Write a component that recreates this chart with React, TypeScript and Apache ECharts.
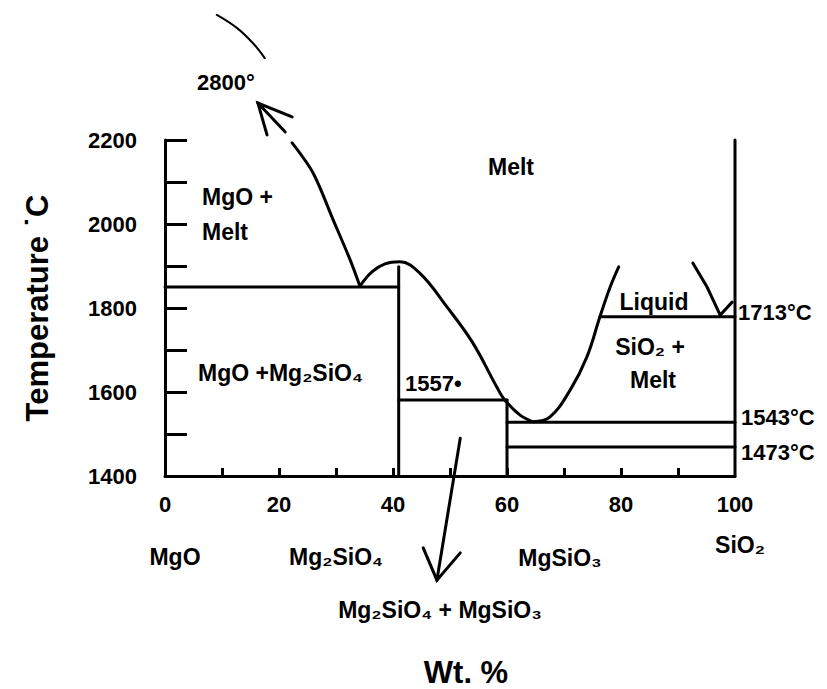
import React, { useEffect, useRef } from 'react';
import * as echarts from 'echarts';

// ---- axis ticks & labels ----
const xTickValues = [10, 20, 30, 40, 50, 60, 70, 80, 90];
const xLabelValues = [0, 20, 40, 60, 80, 100];
const xLabelTexts = ['0', '20', '40', '60', '80', '100'];
const yLabelValues = [1400, 1600, 1800, 2000, 2200];
const yLabelTexts = ['1400', '1600', '1800', '2000', '2200'];

// ---- phase boundaries (wt% SiO2, temperature) ----
const topArc = [[9.1, 2498], [12.6, 2467], [15.4, 2431], [17.5, 2395]];
const mgoLiquidus = [[22.3, 2193], [26.0, 2121], [29.5, 2010], [32.5, 1914], [34.2, 1852]];
const upArrowHead = [[17.9, 2212], [16.3, 2288], [22.3, 2255]];
const upArrowShaft = [[16.3, 2288], [21.1, 2219]];
const forsteriteDome = [
  [34.2, 1852], [36.3, 1886], [38.6, 1905], [41.2, 1910], [44.7, 1883], [49.5, 1802],
  [54.0, 1717], [58.2, 1612], [59.6, 1581], [62.3, 1545], [64.6, 1529],
];
const silicaLiquidusLeft = [
  [64.6, 1529], [67.5, 1540], [71.1, 1605], [74.0, 1683], [76.3, 1779], [78.1, 1850], [79.6, 1898],
];
const silicaLiquidusRight = [[92.6, 1907], [95.1, 1850], [97.4, 1783], [99.5, 1814]];
const eutectic1850 = [[0, 1850], [41, 1850]];
const forsteriteLine = [[41, 1898], [41, 1400]];
const line1557 = [[41, 1581], [60, 1581]];
const enstatiteLine = [[60, 1581], [60, 1400]];
const line1543 = [[60, 1528], [100, 1528]];
const line1473 = [[60, 1469], [100, 1469]];
const line1713 = [[76.3, 1779], [100, 1779]];
const silicaLine = [[100, 1400], [100, 2200]];
const downArrowShaft = [[51.8, 1490], [47.7, 1152]];
const downArrowHead = [[45.3, 1229], [47.7, 1152], [51.8, 1217]];

const FONT = "'Liberation Sans',Arial,sans-serif";

function seg(data: number[][], width = 3, smooth: number | boolean = false) {
  return {
    type: 'line',
    data,
    showSymbol: false,
    symbol: 'none',
    smooth,
    clip: false,
    silent: true,
    lineStyle: { color: '#000', width, cap: 'round', join: 'miter' },
  };
}

function txt(text: string, x: number, y: number, size: number, align = 'left', weight = 'bold', rotation = 0) {
  return {
    type: 'text',
    x,
    y,
    rotation,
    silent: true,
    style: {
      text,
      fill: '#000',
      fontSize: size,
      fontFamily: FONT,
      fontWeight: weight,
      textAlign: align,
      textVerticalAlign: 'middle',
    },
  };
}

export default function App() {
  const ref = useRef<HTMLDivElement>(null);
  useEffect(() => {
    if (!ref.current) return;
    const chart = echarts.init(ref.current, null, { renderer: 'svg' });
    chart.setOption({
      animation: false,
      backgroundColor: '#fff',
      grid: { left: 165, top: 140, width: 570, height: 336 },
      xAxis: {
        type: 'value',
        min: 0,
        max: 100,
        interval: 10,
        axisLine: { show: true, lineStyle: { color: '#000', width: 3 } },
        axisTick: { show: true, inside: true, length: 8, lineStyle: { color: '#000', width: 3 }, customValues: xTickValues },
        axisLabel: {
          show: true,
          customValues: xLabelValues,
          formatter: (v: number) => xLabelTexts[xLabelValues.indexOf(v)] ?? '',
          margin: 17,
          color: '#000',
          fontSize: 22,
          fontWeight: 'bold',
          fontFamily: FONT,
        },
        splitLine: { show: false },
      },
      yAxis: {
        type: 'value',
        min: 1400,
        max: 2200,
        interval: 100,
        axisLine: { show: true, lineStyle: { color: '#000', width: 3 } },
        axisTick: { show: true, inside: true, length: 22, lineStyle: { color: '#000', width: 3 } },
        axisLabel: {
          show: true,
          customValues: yLabelValues,
          formatter: (v: number) => yLabelTexts[yLabelValues.indexOf(v)] ?? '',
          margin: 28,
          color: '#000',
          fontSize: 22,
          fontWeight: 'bold',
          fontFamily: FONT,
        },
        splitLine: { show: false },
      },
      series: [
        seg(topArc, 2, 0.4),
        seg(mgoLiquidus, 3, 0.3),
        seg(upArrowHead, 3),
        seg(upArrowShaft, 3),
        seg(forsteriteDome, 3, 0.4),
        seg(silicaLiquidusLeft, 3, 0.4),
        seg(silicaLiquidusRight, 3),
        seg(eutectic1850, 3),
        seg(forsteriteLine, 3),
        seg(line1557, 3),
        seg(enstatiteLine, 3),
        seg(line1543, 3),
        seg(line1473, 3),
        seg(line1713, 3),
        seg(silicaLine, 3),
        seg(downArrowShaft, 3),
        seg(downArrowHead, 3),
      ],
      graphic: [
        txt('2800°', 197, 82, 22),
        txt('Melt', 511, 167, 23, 'center'),
        txt('MgO +', 202, 197, 23),
        txt('Melt', 202, 232, 23),
        txt('MgO +Mg₂SiO₄', 198, 373, 23),
        txt('1557•', 405, 383, 22),
        txt('Liquid', 654, 302, 23, 'center'),
        txt('SiO₂ +', 650, 347, 23, 'center'),
        txt('Melt', 653, 380, 23, 'center'),
        txt('1713°C', 738, 312, 22),
        txt('1543°C', 741, 417, 22),
        txt('1473°C', 741, 452, 22),
        txt('MgO', 175, 557, 23, 'center'),
        txt('Mg₂SiO₄', 336, 557, 23, 'center'),
        txt('MgSiO₃', 560, 558, 23, 'center'),
        txt('SiO₂', 740, 545, 23, 'center'),
        txt('Mg₂SiO₄ + MgSiO₃', 440, 610, 23, 'center'),
        txt('Wt. %', 466, 672, 31, 'center'),
        txt('Temperature ˙C', 37, 308, 31, 'center', 'bold', Math.PI / 2),
      ],
    });
    return () => chart.dispose();
  }, []);
  return (
    <div
      ref={ref}
      style={{ position: 'fixed', left: 0, top: 0, width: 827, height: 689, background: '#fff' }}
    />
  );
}
